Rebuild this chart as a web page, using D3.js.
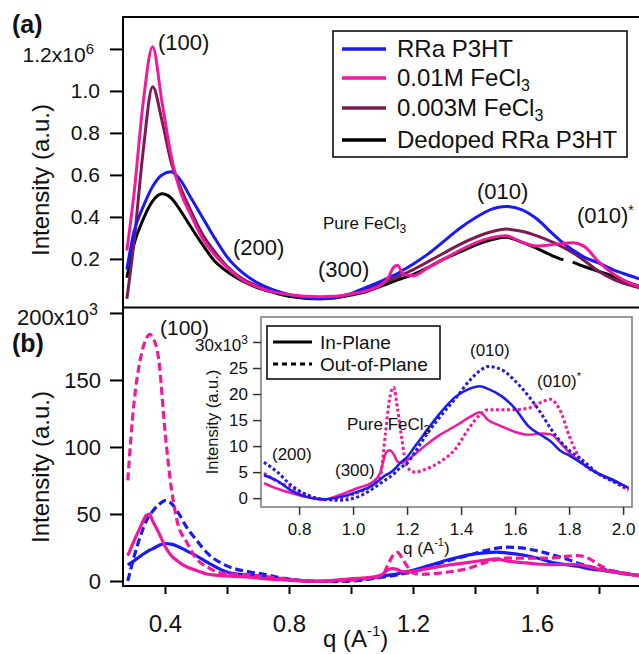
<!DOCTYPE html>
<html>
<head>
<meta charset="utf-8">
<script src="https://cdn.jsdelivr.net/npm/d3@7"></script>
<style>
  body { margin: 0; background: #fff; }
  text { font-family: "Liberation Sans", Arial, sans-serif; fill: #111; }
</style>
</head>
<body>
<svg id="chart"></svg>
<script>
// ---- data ----
// panel (a): intensity in units of 1e6
var qTop = [0.277, 0.30, 0.33, 0.36, 0.39, 0.42, 0.45, 0.48, 0.52, 0.56,
            0.60, 0.65, 0.70, 0.75, 0.80, 0.85, 0.90, 0.95, 1.00, 1.05,
            1.10, 1.12, 1.135, 1.15, 1.17, 1.20, 1.25, 1.30, 1.35, 1.40,
            1.45, 1.50, 1.55, 1.60, 1.65, 1.685, 1.70, 1.715, 1.75, 1.80,
            1.85, 1.90, 1.93];
var rraTop = [0.15, 0.33, 0.45, 0.545, 0.60, 0.615, 0.575, 0.50, 0.40, 0.30,
              0.21, 0.135, 0.085, 0.052, 0.03, 0.016, 0.01, 0.015, 0.035, 0.065,
              0.095, 0.11, 0.12, 0.13, 0.148, 0.175, 0.225, 0.285, 0.345, 0.395,
              0.435, 0.45, 0.435, 0.39, 0.32, 0.275, 0.258, 0.243, 0.21, 0.18,
              0.145, 0.12, 0.105];
var fecl01Top = [0.24, 0.51, 0.95, 1.21, 0.95, 0.69, 0.52, 0.42, 0.30, 0.22,
                 0.16, 0.10, 0.065, 0.042, 0.03, 0.022, 0.02, 0.022, 0.033, 0.048,
                 0.08, 0.11, 0.155, 0.17, 0.125, 0.12, 0.16, 0.20, 0.24, 0.275,
                 0.30, 0.31, 0.28, 0.262, 0.268, 0.274, 0.276, 0.277, 0.262, 0.185,
                 0.125, 0.085, 0.068];
var fecl003Top = [0.01, 0.28, 0.72, 1.02, 0.86, 0.66, 0.54, 0.44, 0.32, 0.235,
                  0.165, 0.105, 0.07, 0.048, 0.03, 0.018, 0.012, 0.018, 0.033, 0.055,
                  0.085, 0.097, 0.105, 0.115, 0.128, 0.148, 0.188, 0.228, 0.268, 0.302,
                  0.328, 0.342, 0.332, 0.31, 0.28, 0.255, 0.243, 0.23, 0.195, 0.14,
                  0.10, 0.075, 0.062];
var dedopedTop = [0.11, 0.27, 0.39, 0.475, 0.51, 0.49, 0.43, 0.36, 0.27, 0.19,
                  0.14, 0.095, 0.062, 0.04, 0.022, 0.013, 0.01, 0.015, 0.028, 0.045,
                  0.072, 0.083, 0.092, 0.10, 0.11, 0.125, 0.16, 0.20, 0.232, 0.265,
                  0.29, 0.303, 0.28, 0.25, 0.215, 0.195, null, 0.185, 0.165, 0.14,
                  0.115, 0.085, 0.07];

// panel (b) and inset: intensity in units of 1e3
var qBottom = [0.28, 0.30, 0.32, 0.34, 0.35, 0.36, 0.38, 0.40, 0.42, 0.44,
               0.47, 0.50, 0.54, 0.58, 0.62, 0.67, 0.72, 0.77, 0.83, 0.89,
               0.95, 1.02, 1.07, 1.10, 1.12, 1.135, 1.15, 1.165, 1.18, 1.20,
               1.23, 1.26, 1.32, 1.38, 1.43, 1.47, 1.50, 1.55, 1.60, 1.65,
               1.70, 1.73, 1.77, 1.80, 1.85, 1.90, 1.96, 2.02];
var rraIP = [12, 15, 18.5, 21.5, 23, 24, 26.5, 28, 27.5, 26,
             22.5, 19, 13.5, 8.5, 5.5, 4.4, 3.3, 1.5, 0.2, -0.2,
             0.2, 1.3, 2.4, 3.6, 4.4, 4.8, 5.4, 6.2, 7.0, 7.9,
             10, 12.1, 16.2, 19.5, 21, 21.5, 21, 19.6, 17.2, 13.8,
             12, 11, 9, 8.2, 6.6, 4.9, 3.6, 1.9];
var rraOOP = [0, 18, 33, 45, 49, 52, 57, 60, 58, 52,
              40, 31, 20, 13.5, 9.5, 6.9, 5, 2.5, 0.6, -0.2,
              -0.4, 0.3, 1.7, 2.8, 3.5, 4, 4.6, 5.4, 6, 6.7,
              8.9, 11.3, 15.5, 19.2, 22.5, 24.5, 25.3, 24.7, 22.5, 19.6,
              16, 13.5, 10.8, 9.2, 7.3, 5, 3.3, 1.9];
var fecl01IP = [19, 30, 40, 49, 50, 45, 36, 26, 19, 15,
                10.5, 8, 5, 4, 3.5, 2.9, 1.8, 1.0, 0.2, -0.3,
                0.6, 2.0, 3.0, 4.8, 8.5, 9.2, 8.5, 7, 6.8, 7.3,
                8.5, 9.8, 12.1, 13.9, 15.5, 16.5, 15, 13.8, 12.7, 12.2,
                12.4, 12.3, 10.5, 8.8, 6.6, 5, 3.4, 2.0];
var fecl01OOP = [75, 133, 165, 181, 184, 182, 165, 112, 70, 44,
                 29, 17, 10, 6, 5.2, 4.8, 3.2, 2.0, 0.6, -0.3,
                 0, 1.1, 2.4, 4, 12.5, 19, 21.3, 17, 11.5, 6,
                 5, 5.4, 6.9, 9.5, 13.5, 16, 17, 17, 17, 17.3,
                 18.5, 19, 16.5, 12, 6.8, 4.9, 3.3, 1.5];

var topTicks = [0.2, 0.4, 0.6, 0.8, 1.0, 1.2];
var bottomTicks = [0, 50, 100, 150, 200];
var insetTicks = [0, 5, 10, 15, 20, 25, 30];
var qTicks = [0.4, 0.6, 0.8, 1.0, 1.2, 1.4, 1.6, 1.8];
var qLabels = [0.4, 0.8, 1.2, 1.6];
var insetQTicks = [0.8, 1.0, 1.2, 1.4, 1.6, 1.8, 2.0];
var legendTop = ["RRa P3HT", "0.01M FeCl", "0.003M FeCl", "Dedoped RRa P3HT"];

var blue = "#1a1af5", pink = "#f2189d", purple = "#7b1b52", black = "#000";

// ---- layout ----
var W = 639, H = 654;
var svg = d3.select("#chart").attr("width", W).attr("height", H);

var x = d3.scaleLinear().domain([0.2645, 1.929]).range([123, 639]);
var yTop = d3.scaleLinear().domain([-0.029, 1.352]).range([307, 17]);
var yBot = d3.scaleLinear().domain([-3.73, 203.7]).range([586, 308]);
var xIn = d3.scaleLinear().domain([0.659, 2.033]).range([261, 632]);
var yIn = d3.scaleLinear().domain([-1.7, 34.8]).range([507, 317]);

var defs = svg.append("defs");
defs.append("clipPath").attr("id", "clipTop").append("rect")
    .attr("x", 123).attr("y", 17).attr("width", W - 123).attr("height", 290);
defs.append("clipPath").attr("id", "clipBot").append("rect")
    .attr("x", 123).attr("y", 308).attr("width", W - 123).attr("height", 278);
defs.append("clipPath").attr("id", "clipIn").append("rect")
    .attr("x", 261).attr("y", 317).attr("width", 371).attr("height", 190);

function styleAxis(g, fs) {
    g.select(".domain").remove();
    g.selectAll("line").attr("stroke", "#000").attr("stroke-width", 2);
    g.selectAll("text").attr("font-size", fs).attr("fill", "#111")
        .style("font-family", '"Liberation Sans", Arial, sans-serif');
}

function label(x0, y0, fs, txt) {
    return svg.append("text").attr("x", x0).attr("y", y0).attr("font-size", fs).text(txt);
}

// ---------- panel (a) ----------
var lineTop = d3.line()
    .defined(function(d) { return d != null; })
    .x(function(d, i) { return x(qTop[i]); })
    .y(function(d) { return yTop(d); })
    .curve(d3.curveMonotoneX);

var topCurves = svg.append("g").attr("clip-path", "url(#clipTop)");
[[dedopedTop, black], [fecl003Top, purple], [rraTop, blue], [fecl01Top, pink]]
    .forEach(function(s) {
        topCurves.append("path")
            .attr("d", lineTop(s[0]))
            .attr("fill", "none")
            .attr("stroke", s[1])
            .attr("stroke-width", 3);
    });

var gyTop = svg.append("g").attr("transform", "translate(123,0)")
    .call(d3.axisLeft(yTop).tickValues(topTicks).tickSize(13).tickPadding(10)
        .tickFormat(d3.format(".1f")));
styleAxis(gyTop, 21);
gyTop.selectAll(".tick text").filter(function(d) { return d === 1.2; })
    .text(null).attr("x", -29).attr("y", 6)
    .call(function(t) {
        t.append("tspan").text("1.2x10");
        t.append("tspan").attr("dy", "-0.55em").attr("font-size", 15).text("6");
    });

var gxTop = svg.append("g").attr("transform", "translate(0,307)")
    .call(d3.axisBottom(x).tickValues(qTicks).tickSize(5).tickFormat(""));
styleAxis(gxTop, 10);

svg.append("line").attr("x1", 123).attr("x2", W).attr("y1", 17).attr("y2", 17)
    .attr("stroke", "#000").attr("stroke-width", 2);
svg.append("line").attr("x1", 123).attr("x2", 123).attr("y1", 16).attr("y2", 308)
    .attr("stroke", "#000").attr("stroke-width", 2);

// legend (a)
var leg = svg.append("g");
leg.append("rect").attr("x", 333).attr("y", 31).attr("width", 294).attr("height", 126)
    .attr("fill", "#fff").attr("stroke", "#000").attr("stroke-width", 1.5);
var legY = [49, 78, 108, 140];
[blue, pink, purple, black].forEach(function(c, i) {
    leg.append("line").attr("x1", 342).attr("x2", 386)
        .attr("y1", legY[i]).attr("y2", legY[i])
        .attr("stroke", c).attr("stroke-width", 3.5);
    var t = leg.append("text").attr("x", 397).attr("y", legY[i] + 8)
        .attr("font-size", 24).text(legendTop[i]);
    if (i === 1 || i === 2) {
        t.append("tspan").attr("dy", 5).attr("font-size", 16).text("3");
    }
});

// annotations (a)
svg.append("text").attr("x", 12).attr("y", 33).attr("font-size", 25)
    .attr("font-weight", "bold").text("(a)");
label(158, 50, 22, "(100)");
label(233, 255, 22, "(200)");
label(318, 277, 22, "(300)");
label(477, 199, 22, "(010)");
label(577, 223, 22, "(010)").append("tspan").attr("dy", -8).attr("font-size", 14).text("*");
label(323, 229, 17, "Pure FeCl").append("tspan").attr("dy", 4).attr("font-size", 12).text("3");

svg.append("text").attr("transform", "translate(49,180) rotate(-90)")
    .attr("text-anchor", "middle").attr("font-size", 24).text("Intensity (a.u.)");

// ---------- panel (b) ----------
svg.append("rect").attr("x", 0).attr("y", 308).attr("width", W).attr("height", H - 308)
    .attr("fill", "#fff");

var lineBot = d3.line()
    .x(function(d, i) { return x(qBottom[i]); })
    .y(function(d) { return yBot(d); })
    .curve(d3.curveMonotoneX);

var botCurves = svg.append("g").attr("clip-path", "url(#clipBot)");
[[rraIP, blue, null], [rraOOP, blue, "8,4"], [fecl01IP, pink, null], [fecl01OOP, pink, "8,4"]]
    .forEach(function(s) {
        botCurves.append("path")
            .attr("d", lineBot(s[0]))
            .attr("fill", "none")
            .attr("stroke", s[1])
            .attr("stroke-width", 3.2)
            .attr("stroke-dasharray", s[2]);
    });

var gyBot = svg.append("g").attr("transform", "translate(123,0)")
    .call(d3.axisLeft(yBot).tickValues(bottomTicks).tickSize(13).tickPadding(9));
styleAxis(gyBot, 22);
gyBot.selectAll(".tick text").filter(function(d) { return d === 200; })
    .text(null).attr("x", -25).attr("y", 4)
    .call(function(t) {
        t.append("tspan").text("200x10");
        t.append("tspan").attr("dy", "-0.6em").attr("font-size", 16).text("3");
    });

var gxBot = svg.append("g").attr("transform", "translate(0,586)")
    .call(d3.axisBottom(x).tickValues(qTicks).tickSize(8).tickPadding(21)
        .tickFormat(function(d) { return qLabels.indexOf(d) >= 0 ? d3.format(".1f")(d) : ""; }));
styleAxis(gxBot, 24);

svg.append("line").attr("x1", 122).attr("x2", W).attr("y1", 307.5).attr("y2", 307.5)
    .attr("stroke", "#000").attr("stroke-width", 2);
svg.append("line").attr("x1", 123).attr("x2", 123).attr("y1", 307).attr("y2", 587)
    .attr("stroke", "#000").attr("stroke-width", 2);
svg.append("line").attr("x1", 122).attr("x2", W).attr("y1", 586).attr("y2", 586)
    .attr("stroke", "#000").attr("stroke-width", 2);

svg.append("text").attr("x", 12).attr("y", 352).attr("font-size", 25)
    .attr("font-weight", "bold").text("(b)");
label(160, 335, 21, "(100)");

svg.append("text").attr("transform", "translate(49,467) rotate(-90)")
    .attr("text-anchor", "middle").attr("font-size", 24).text("Intensity (a.u.)");

var xl = svg.append("text").attr("x", 323).attr("y", 647).attr("font-size", 24).text("q (A");
xl.append("tspan").attr("dy", -11).attr("font-size", 15).text("-1");
xl.append("tspan").attr("dy", 11).attr("font-size", 24).text(")");

// ---------- inset ----------
svg.append("rect").attr("x", 261).attr("y", 317).attr("width", 371).attr("height", 190)
    .attr("fill", "#fff").attr("stroke", "#777").attr("stroke-width", 1.5);

var inIdx = qBottom.map(function(q, i) { return i; })
    .filter(function(i) { return qBottom[i] >= 0.66; });
var lineIn = d3.line()
    .x(function(i) { return xIn(qBottom[i]); })
    .curve(d3.curveMonotoneX);

var inCurves = svg.append("g").attr("clip-path", "url(#clipIn)");
[[fecl01IP, pink, null], [fecl01OOP, pink, "3,2.5"], [rraIP, blue, null], [rraOOP, blue, "3,2.5"]]
    .forEach(function(s) {
        lineIn.y(function(i) { return yIn(s[0][i]); });
        inCurves.append("path")
            .attr("d", lineIn(inIdx))
            .attr("fill", "none")
            .attr("stroke", s[1])
            .attr("stroke-width", s[2] ? 3 : 2.5)
            .attr("stroke-dasharray", s[2]);
    });

var gyIn = svg.append("g").attr("transform", "translate(261,0)")
    .call(d3.axisLeft(yIn).tickValues(insetTicks).tickSize(8).tickPadding(5));
styleAxis(gyIn, 17);
gyIn.selectAll("line").attr("stroke", "#333").attr("stroke-width", 1.5);
gyIn.selectAll(".tick text").filter(function(d) { return d === 30; })
    .text(null).attr("y", 3)
    .call(function(t) {
        t.append("tspan").text("30x10");
        t.append("tspan").attr("dy", "-0.6em").attr("font-size", 12).text("3");
    });

var gxIn = svg.append("g").attr("transform", "translate(0,507)")
    .call(d3.axisBottom(xIn).tickValues(insetQTicks).tickSize(8).tickPadding(8)
        .tickFormat(d3.format(".1f")));
styleAxis(gxIn, 17);
gxIn.selectAll("line").attr("stroke", "#333").attr("stroke-width", 1.5);

var xli = svg.append("text").attr("x", 403).attr("y", 554).attr("font-size", 17).text("q (A");
xli.append("tspan").attr("dy", -8).attr("font-size", 11).text("-1");
xli.append("tspan").attr("dy", 8).attr("font-size", 17).text(")");

svg.append("text").attr("transform", "translate(218,422) rotate(-90)")
    .attr("text-anchor", "middle").attr("font-size", 16.5).text("Intensity (a.u.)");

// inset legend
svg.append("rect").attr("x", 267).attr("y", 326).attr("width", 173).attr("height", 53)
    .attr("fill", "#fff").attr("stroke", "#000").attr("stroke-width", 1.5);
svg.append("line").attr("x1", 273).attr("x2", 312).attr("y1", 342).attr("y2", 342)
    .attr("stroke", "#000").attr("stroke-width", 3);
svg.append("line").attr("x1", 273).attr("x2", 312).attr("y1", 364).attr("y2", 364)
    .attr("stroke", "#000").attr("stroke-width", 3).attr("stroke-dasharray", "5,4");
label(320, 349, 19, "In-Plane");
label(320, 371, 19, "Out-of-Plane");

// inset annotations
label(272, 460, 17, "(200)");
label(335, 476, 17, "(300)");
label(347, 430, 17, "Pure FeCl").append("tspan").attr("dy", 4).attr("font-size", 12).text("3");
label(470, 356, 17, "(010)");
label(537, 387, 17, "(010)").append("tspan").attr("dy", -7).attr("font-size", 11).text("*");
</script>
</body>
</html>
